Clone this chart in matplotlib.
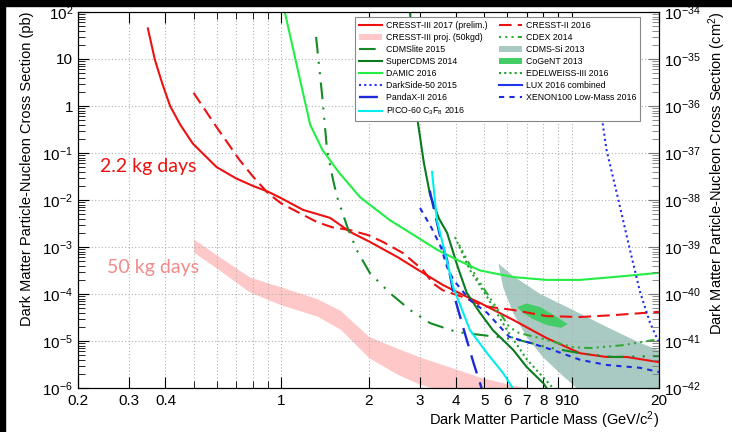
import numpy as np
import matplotlib
matplotlib.use("Agg")
import matplotlib.pyplot as plt
from matplotlib.patches import Rectangle

plt.rcParams['font.family'] = ['Liberation Sans', 'DejaVu Sans']
plt.rcParams['mathtext.fontset'] = 'custom'
plt.rcParams['mathtext.rm'] = 'Liberation Sans'
plt.rcParams['mathtext.it'] = 'Liberation Sans:italic'
plt.rcParams['mathtext.bf'] = 'Liberation Sans:bold'

# ---- data: mass (GeV/c^2) and log10 of cross section (pb)
cresst3_m = [0.348, 0.368, 0.39, 0.415, 0.45, 0.497, 0.55, 0.6, 0.7, 0.8, 0.9, 1.0,
             1.19, 1.475, 1.73, 2.02, 2.51, 3.08, 3.61, 4.23, 4.84, 6.29, 8.22,
             10.7, 13.2, 15.5, 20]
cresst3_s = [1.65, 0.98, 0.48, 0.0, -0.4, -0.8, -1.07, -1.3, -1.54, -1.7, -1.82, -1.96,
             -2.21, -2.38, -2.68, -2.89, -3.21, -3.55, -3.81, -4.02, -4.19, -4.55, -4.94,
             -5.26, -5.34, -5.34, -5.45]

cresst2_m = [0.5, 0.6, 0.72, 0.8, 0.9, 1.0, 1.16, 1.33, 1.5, 1.73, 2.0, 2.24, 2.63,
             3.08, 3.33, 3.6, 4.2, 5.0, 6.3, 8.2, 10.7, 13.9, 20]
cresst2_s = [0.28, -0.45, -1.15, -1.5, -1.85, -2.07, -2.28, -2.47, -2.58, -2.64, -2.75,
             -2.89, -3.13, -3.49, -3.77, -3.92, -4.06, -4.26, -4.34, -4.47, -4.49,
             -4.45, -4.38]

proj_m = [0.5, 0.6, 0.78, 1.0, 1.33, 1.6, 2.0, 2.5, 3.0, 3.8, 4.84, 6.3, 8.1]
proj_hi = [-2.83, -3.17, -3.64, -3.85, -4.1, -4.35, -4.9, -5.15, -5.34, -5.55, -5.77,
           -5.94, -6.05]
proj_lo = [-3.11, -3.45, -3.96, -4.23, -4.47, -4.75, -5.35, -5.7, -5.92, -6.1, -6.3,
           -6.5, -6.7]

cdmslite_m = [1.32, 1.39, 1.44, 1.51, 1.56, 1.69, 1.82, 2.02, 2.37, 2.78, 3.26, 4.03,
              5.5, 6.6, 8.2, 10.7, 13.9, 20]
cdmslite_s = [1.47, 0.13, -0.94, -1.57, -1.94, -2.57, -3.06, -3.55, -3.98, -4.34, -4.62,
              -4.81, -4.91, -4.98, -5.13, -5.26, -5.34, -5.32]

supercdms_m = [2.78, 2.96, 3.1, 3.26, 3.5, 3.73, 4.06, 4.36, 4.84, 5.36, 6.3, 7.0, 8.0, 8.2]
supercdms_s = [2.0, -0.36, -1.2, -1.9, -2.4, -2.7, -3.43, -3.98, -4.4, -4.77, -5.19,
               -5.55, -5.9, -6.0]

damic_m = [1.03, 1.26, 1.39, 1.59, 1.87, 2.37, 2.94, 3.45, 4.06, 4.84, 6.3, 8.2, 10.7,
           13.9, 20]
damic_s = [2.0, -0.4, -0.94, -1.43, -1.94, -2.43, -2.79, -3.06, -3.28, -3.5, -3.64, -3.7,
           -3.7, -3.64, -3.55]

darkside_m = [12.0, 12.7, 13.2, 14.5, 15.8, 17.2, 18.6, 20]
darkside_s = [0.5, -0.23, -0.94, -2.0, -3.0, -3.95, -4.6, -5.04]

pandax_m = [3.25, 3.55, 3.73, 3.92, 4.23, 4.6, 4.9]
pandax_s = [-1.8, -2.85, -3.28, -3.98, -4.7, -5.47, -6.0]

pico_m = [3.31, 3.44, 3.67, 3.91, 4.47, 5.12, 5.81, 6.24]
pico_s = [-1.4, -2.43, -3.13, -3.85, -4.77, -5.26, -5.68, -5.98]

cdex_m = [4.1, 4.7, 5.5, 6.1, 6.6, 7.8, 10.1, 11.6, 15.0, 20]
cdex_s = [-2.95, -3.64, -4.28, -4.7, -4.83, -4.94, -5.13, -5.15, -5.09, -4.96]

edelweiss_m = [3.97, 4.47, 5.12, 6.0, 7.03, 8.63]
edelweiss_s = [-2.79, -3.49, -4.06, -4.77, -5.4, -6.0]

xenon_m = [3.01, 3.3, 3.55, 3.73, 3.92, 4.47, 5.12, 6.1, 7.2, 8.6, 10.7, 13.2, 17.2, 20]
xenon_s = [-2.17, -2.6, -3.0, -3.43, -3.7, -4.13, -4.4, -4.91, -5.04, -5.19, -5.4, -5.51,
           -5.57, -5.66]

cdmssi_m = [5.6, 6.3, 7.8, 10.1, 13.2, 17.2, 20, 20, 10.4, 9.1, 7.96, 7.0, 6.29, 5.81, 5.6]
cdmssi_s = [-3.35, -3.62, -4.0, -4.34, -4.7, -5.04, -5.2, -6.0, -6.0, -5.68, -5.34, -4.91,
            -4.4, -3.85, -3.35]

cogent_m = [6.5, 7.0, 7.8, 8.7, 9.7, 9.2, 8.2, 7.3, 6.8, 6.5]
cogent_s = [-4.28, -4.2, -4.28, -4.45, -4.64, -4.72, -4.66, -4.52, -4.4, -4.28]

xtick_vals = [0.2, 0.3, 0.4, 1, 2, 3, 4, 5, 6, 7, 8, 9, 10, 20]
xtick_labels = ['0.2', '0.3', '0.4', '1', '2', '3', '4', '5', '6', '7', '8', '9', '10', '20']
ytick_labels = ['$10^{-6}$', '$10^{-5}$', '$10^{-4}$', '$10^{-3}$', '$10^{-2}$',
                '$10^{-1}$', '1', '10', '$10^{2}$']
ytick2_labels = ['$10^{-%d}$' % k for k in range(42, 33, -1)]


def pb(v):
    return 10.0 ** np.array(v)


fig = plt.figure(figsize=(7.32, 4.32), dpi=100)
ax = fig.add_axes([78 / 732, 44 / 432, 581 / 732, 376 / 432])
ax.set_xscale('log')
ax.set_yscale('log')

red = '#ee1111'
ax.fill_between(proj_m, pb(proj_lo), pb(proj_hi), color='#ffc8c8', lw=0,
                label='CRESST-III proj. (50kgd)', zorder=1)
ax.fill(cdmssi_m, pb(cdmssi_s), color='#a9cac3', lw=0, label='CDMS-Si 2013', zorder=1.5)
ax.fill(cogent_m, pb(cogent_s), color='#44cc66', lw=0, label='CoGeNT 2013', zorder=1.6)

lw = 1.5
ax.plot(cresst3_m, pb(cresst3_s), color=red, lw=lw, label='CRESST-III 2017 (prelim.)')
ax.plot(cresst2_m, pb(cresst2_s), color=red, lw=lw, ls=(0, (6, 3)), label='CRESST-II 2016')
ax.plot(cdmslite_m, pb(cdmslite_s), color='#158a25', lw=lw,
        ls=(0, (8, 4, 1, 4, 1, 4)), label='CDMSlite 2015')
ax.plot(cdex_m, pb(cdex_s), color='#33aa33', lw=lw,
        ls=(0, (1, 2, 1, 2, 1, 2, 4, 2)), label='CDEX 2014')
ax.plot(supercdms_m, pb(supercdms_s), color='#0a7a1e', lw=lw, label='SuperCDMS 2014')
ax.plot(damic_m, pb(damic_s), color='#22ee44', lw=lw, label='DAMIC 2016')
ax.plot(edelweiss_m, pb(edelweiss_s), color='#22a032', lw=lw, ls=(0, (1, 1.5)),
        label='EDELWEISS-III 2016')
ax.plot(darkside_m, pb(darkside_s), color='#2030ee', lw=lw, ls=(0, (1, 1.5)),
        label='DarkSide-50 2015')
ax.plot([], [], color='#2233ee', lw=lw, label='LUX 2016 combined')
ax.plot(pandax_m, pb(pandax_s), color='#1a2ad8', lw=1.7, ls=(0, (8, 4)),
        label='PandaX-II 2016')
ax.plot(xenon_m, pb(xenon_s), color='#1a2be0', lw=lw, ls=(0, (2.5, 2.5)),
        label='XENON100 Low-Mass 2016')
ax.plot(pico_m, pb(pico_s), color='#00eeee', lw=lw, label='PICO-60 C$_3$F$_8$ 2016')

ax.set_xlim(0.2, 20)
ax.set_ylim(1e-6, 1e2)

ax.set_xticks(xtick_vals, xtick_labels)
ax.set_xticks([0.5, 0.6, 0.7, 0.8, 0.9], minor=True)
ax.set_yticks(pb(range(-6, 3)), ytick_labels)
ax.yaxis.set_minor_locator(matplotlib.ticker.LogLocator(base=10, subs=np.arange(2, 10), numticks=20))
ax.yaxis.set_minor_formatter(matplotlib.ticker.NullFormatter())
ax.tick_params(which='both', direction='in', top=True, right=False, labelsize=11)
ax.tick_params(which='major', length=8)
ax.tick_params(which='minor', length=5)
ax.tick_params(axis='x', pad=4)

ax.grid(True, which='major', axis='y', ls=(0, (1, 2)), color='#b0b0b0', lw=0.8)
ax.grid(True, which='both', axis='x', ls=(0, (1, 2)), color='#b0b0b0', lw=0.8)

ax.set_xlabel('Dark Matter Particle Mass (GeV/c$^2$)', fontsize=10.5, loc='right',
              labelpad=1)
ax.set_ylabel('Dark Matter Particle-Nucleon Cross Section (pb)', fontsize=10.5, loc='top',
              labelpad=6)

ax2 = ax.twinx()
ax2.set_yscale('log')
ax2.set_ylim(1e-42, 1e-34)
ax2.set_yticks(pb(range(-42, -33)), ytick2_labels)
ax2.yaxis.set_minor_locator(matplotlib.ticker.LogLocator(base=10, subs=np.arange(2, 10), numticks=20))
ax2.yaxis.set_minor_formatter(matplotlib.ticker.NullFormatter())
ax2.tick_params(which='both', direction='in', labelsize=11, color='#777777')
ax2.tick_params(which='major', length=8)
ax2.tick_params(which='minor', length=5)
ax2.set_ylabel('Dark Matter Particle-Nucleon Cross Section (cm$^2$)', fontsize=10.5, loc='top')

ax.text(0.038, 0.574, '2.2 kg days', transform=ax.transAxes, color=red,
        fontsize=14, family=['Lato', 'DejaVu Sans'], va='baseline')
ax.text(0.05, 0.306, '50 kg days', transform=ax.transAxes, color='#f28b8b',
        fontsize=14, family=['Lato', 'DejaVu Sans'], va='baseline')

handles, labels = ax.get_legend_handles_labels()
order = ['CRESST-III 2017 (prelim.)', 'CRESST-III proj. (50kgd)', 'CDMSlite 2015',
         'SuperCDMS 2014', 'DAMIC 2016', 'DarkSide-50 2015', 'PandaX-II 2016',
         'PICO-60 C$_3$F$_8$ 2016', 'CRESST-II 2016', 'CDEX 2014', 'CDMS-Si 2013',
         'CoGeNT 2013', 'EDELWEISS-III 2016', 'LUX 2016 combined', 'XENON100 Low-Mass 2016']
hmap = dict(zip(labels, handles))
leg = ax.legend([hmap[k] for k in order], order, ncol=2, loc='upper left',
                bbox_to_anchor=(0.477, 0.987),
                fontsize=6.3, fancybox=False, framealpha=1, edgecolor='#888888',
                borderaxespad=0, handlelength=2.6, handletextpad=0.5,
                labelspacing=0.36, columnspacing=1.3, borderpad=0.42)
leg.get_frame().set_linewidth(0.8)
leg.set_zorder(10)

fig.patches.append(Rectangle((0, 1 - 6 / 432), 1, 6 / 432, transform=fig.transFigure,
                             color='black', zorder=20))
fig.patches.append(Rectangle((0, 0), 5 / 732, 1, transform=fig.transFigure,
                             color='black', zorder=20))

fig.savefig('out.png', dpi=100)
